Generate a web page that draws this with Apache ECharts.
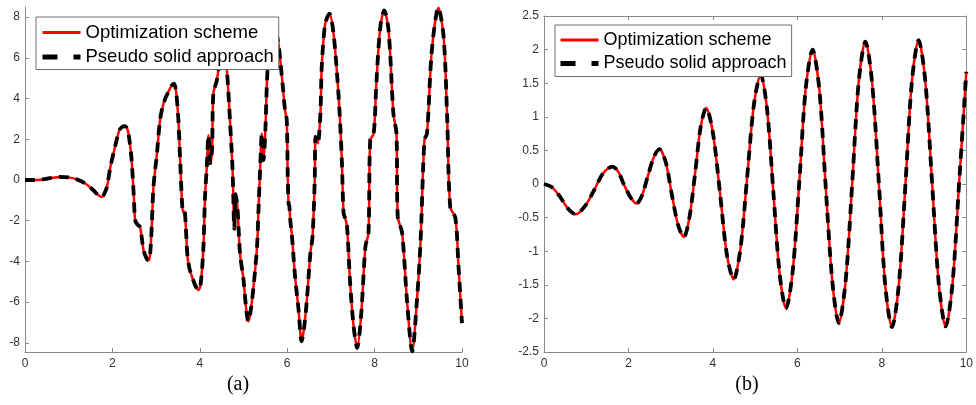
<!DOCTYPE html>
<html>
<head>
<meta charset="utf-8">
<script src="https://cdn.jsdelivr.net/npm/echarts@6/dist/echarts.min.js"></script>
<style>
html,body{margin:0;padding:0;background:#fff;}
#c{width:976px;height:405px;}
</style>
</head>
<body>
<div id="c"></div>
<script>
// ---------- data ----------
const seriesNames = ['Optimization scheme', 'Pseudo solid approach'];
const captions = ['(a)', '(b)'];

// panel (a)
const aTime = [0,0.2,0.4,0.6,0.8,1.0,1.2,1.37,1.56,1.68,1.76,1.83,1.88,1.95,2.06,2.16,2.23,2.29,2.35,2.4,2.44,2.49,2.52,2.57,2.63,2.67,2.71,2.77,2.82,2.86,2.9,2.94,3.02,3.09,3.17,3.28,3.36,3.41,3.46,3.51,3.55,3.59,3.62,3.65,3.68,3.72,3.77,3.82,3.9,3.97,4.02,4.08,4.12,4.16,4.2,4.24,4.28,4.31,4.39,4.45,4.52,4.58,4.62,4.69,4.75,4.79,4.82,4.86,4.92,5.0,5.06,5.11,5.16,5.23,5.31,5.34,5.38,5.42,5.46,5.5,5.55,5.62,5.7,5.76,5.8,5.84,5.9,5.95,5.99,6.01,6.03,6.05,6.07,6.11,6.18,6.26,6.33,6.39,6.45,6.53,6.58,6.63,6.65,6.7,6.76,6.79,6.87,6.97,7.06,7.14,7.2,7.25,7.29,7.33,7.37,7.44,7.52,7.6,7.69,7.79,7.86,7.9,7.98,8.04,8.13,8.22,8.32,8.43,8.5,8.53,8.63,8.74,8.86,8.97,9.05,9.14,9.2,9.31,9.46,9.58,9.66,9.73,9.85,9.92,10];
const aValue = [0,0.0,0.03,0.1,0.15,0.13,0.02,-0.16,-0.49,-0.75,-0.84,-0.6,-0.3,0.6,1.63,2.45,2.62,2.65,2.45,1.8,0.98,-0.8,-1.96,-2.18,-2.3,-2.8,-3.43,-3.8,-3.95,-3.7,-2.29,-0.33,1.31,2.94,3.76,4.33,4.65,4.74,4.3,2.94,1.0,-0.98,-1.6,-1.55,-2.3,-3.8,-4.4,-4.74,-5.2,-5.4,-5.1,-3.43,-0.82,0.65,2.2,0.82,1.5,4.25,4.9,5.7,6.05,5.85,5.39,2.94,0.49,-2.4,-0.7,-1.3,-3.6,-4.9,-6.3,-6.95,-6.5,-5.23,-3.27,-1.63,0.49,2.29,0.98,2.45,5.4,6.7,7.3,7.1,6.7,5.9,4.6,3.43,2.94,0.49,-1.14,-1.3,-1.96,-2.78,-4.74,-6.37,-7.93,-7.2,-5.88,-3.6,-2.78,0,2.12,1.8,3.27,5.55,7.68,8.17,7.19,5.23,3.27,0.98,-1.63,-1.9,-2.29,-5.06,-7.19,-8.25,-6.7,-3.27,-2.61,1.96,2.29,4.74,7.52,8.33,7.35,3.27,2.29,-1.8,-2.61,-5.88,-8.42,-5.88,-3.1,1.96,2.29,6.37,8.46,7.02,3.1,-1.31,-1.88,-4.25,-7.03];
const aTicksY = [-8,-6,-4,-2,0,2,4,6,8];

// panel (b)
const bTime = [0,0.19,0.38,0.56,0.75,0.97,1.18,1.39,1.62,1.76,1.9,2.05,2.19,2.32,2.46,2.6,2.73,2.88,3.02,3.17,3.31,3.44,3.58,3.71,3.84,4.0,4.17,4.33,4.49,4.65,4.81,4.97,5.13,5.28,5.43,5.58,5.73,5.89,6.05,6.2,6.36,6.52,6.67,6.83,6.98,7.14,7.3,7.45,7.61,7.77,7.93,8.08,8.24,8.4,8.56,8.71,8.87,9.03,9.19,9.35,9.51,9.67,9.83,10];
const bValue = [0,-0.05,-0.19,-0.36,-0.45,-0.33,-0.1,0.15,0.26,0.18,-0.02,-0.2,-0.29,-0.17,0.12,0.4,0.52,0.33,-0.13,-0.6,-0.79,-0.51,0.17,0.85,1.13,0.76,-0.15,-1.05,-1.42,-0.97,0.1,1.18,1.63,1.12,-0.11,-1.34,-1.85,-1.29,0.08,1.44,2.0,1.4,-0.04,-1.47,-2.07,-1.46,0.03,1.51,2.12,1.5,0.0,-1.51,-2.13,-1.51,0.01,1.52,2.14,1.52,0.01,-1.5,-2.12,-1.5,0.02,1.67];
const bTicksY = [-2.5,-2,-1.5,-1,-0.5,0,0.5,1,1.5,2,2.5];

// ---------- build ----------
const zip = (t, v) => t.map((x, i) => [x, v[i]]);
const aData = zip(aTime, aValue);
const bData = zip(bTime, bValue);

const axisGrey = '#8a8a8a';
const labelGrey = '#333333';
const font = '"Liberation Sans", Arial, Helvetica, sans-serif';

function xAxisCfg(gi, opts) {
  return Object.assign({
    type: 'value', gridIndex: gi, min: 0, max: 10, interval: 2,
    axisLine: { show: true, onZero: false, lineStyle: { color: axisGrey, width: 1 } },
    axisTick: { show: true, inside: true, length: 4, lineStyle: { color: axisGrey } },
    axisLabel: { color: labelGrey, fontSize: 12, fontFamily: font, margin: 6 },
    splitLine: { show: false }
  }, opts || {});
}
function yAxisCfg(gi, min, max, ticks, opts) {
  return Object.assign({
    type: 'value', gridIndex: gi, min: min, max: max,
    axisLine: { show: true, onZero: false, lineStyle: { color: axisGrey, width: 1 } },
    axisTick: { show: true, inside: true, length: 4, lineStyle: { color: axisGrey }, customValues: ticks },
    axisLabel: { color: labelGrey, fontSize: 12, fontFamily: font, margin: 5, customValues: ticks },
    splitLine: { show: false }
  }, opts || {});
}

function lineSeries(name, data, xi, yi, red) {
  return {
    name: name, type: 'line', xAxisIndex: xi, yAxisIndex: yi, data: data,
    symbol: 'none', showSymbol: false, smooth: 0.3, animation: false,
    lineStyle: red ? { color: '#ff0000', width: 2.5 }
                   : { color: '#000000', width: 3.8, type: [10, 7], cap: 'butt' },
    itemStyle: { color: red ? '#ff0000' : '#000000' },
    z: red ? 2 : 3
  };
}

function legendCfg(left, top, fs, pad) {
  return {
    orient: 'vertical', left: left, top: top,
    itemWidth: 38, itemHeight: 12, itemGap: 5.5,
    padding: pad,
    backgroundColor: '#ffffff', borderColor: '#6e6e6e', borderWidth: 1, borderRadius: 0,
    textStyle: { fontFamily: font, fontSize: fs, color: '#000' },
    selectedMode: false,
    data: [
      { name: seriesNames[0], lineStyle: { color: '#ff0000', width: 3, type: 'solid' }, itemStyle: { opacity: 0 } },
      { name: seriesNames[1], lineStyle: { color: '#000000', width: 5, type: [15, 16], cap: 'butt' }, itemStyle: { opacity: 0 } }
    ],
    z: 10
  };
}

const option = {
  animation: false,
  backgroundColor: '#ffffff',
  grid: [
    { left: 25, top: 7, width: 437, height: 345 },
    { left: 544, top: 16, width: 427, height: 336 }
  ],
  xAxis: [
    xAxisCfg(0),
    xAxisCfg(1),
    xAxisCfg(1, { position: 'top', axisLabel: { show: false } })
  ],
  yAxis: [
    yAxisCfg(0, -8.45, 8.5, aTicksY),
    yAxisCfg(1, -2.5, 2.5, bTicksY, { interval: 0.5 }),
    yAxisCfg(1, -2.5, 2.5, bTicksY, { interval: 0.5, position: 'right', axisLabel: { show: false } })
  ],
  legend: [
    legendCfg(36, 17, 18.5, [6, 5, 3, 4]),
    legendCfg(555, 25, 18, [6, 5, 4, 3])
  ],
  series: [
    lineSeries(seriesNames[0], aData, 0, 0, true),
    lineSeries(seriesNames[1], aData, 0, 0, false),
    lineSeries(seriesNames[0], bData, 1, 1, true),
    lineSeries(seriesNames[1], bData, 1, 1, false)
  ],
  graphic: [
    { type: 'text', x: 238, y: 385, style: { text: captions[0], font: '20px "Liberation Serif", "DejaVu Serif", serif', fill: '#000', align: 'center', verticalAlign: 'middle' } },
    { type: 'text', x: 747, y: 385, style: { text: captions[1], font: '20px "Liberation Serif", "DejaVu Serif", serif', fill: '#000', align: 'center', verticalAlign: 'middle' } }
  ]
};

const chart = echarts.init(document.getElementById('c'), null, { renderer: 'canvas' });
chart.setOption(option);
</script>
</body>
</html>
